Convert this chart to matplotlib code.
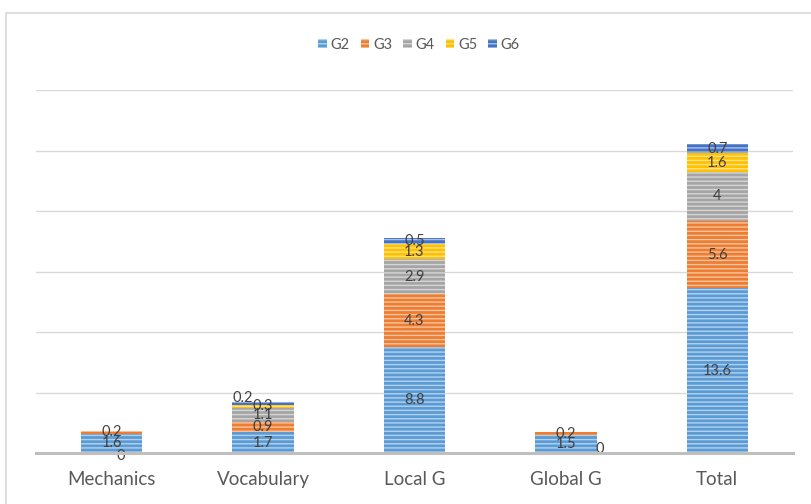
import numpy as np
import matplotlib
matplotlib.use("Agg")
import matplotlib.pyplot as plt
from matplotlib.patches import Patch, Rectangle

plt.rcParams['font.family'] = ['Lato', 'DejaVu Sans']
plt.rcParams['hatch.linewidth'] = 1.0

categories = ["Mechanics", "Vocabulary", "Local G", "Global G", "Total"]
series = ["G2", "G3", "G4", "G5", "G6"]
g2 = [1.6, 1.7, 8.8, 1.5, 13.6]
g3 = [0.2, 0.9, 4.3, 0.2, 5.6]
g4 = [0.0, 1.1, 2.9, 0.0, 4.0]
g5 = [np.nan, 0.3, 1.3, np.nan, 1.6]
g6 = [np.nan, 0.2, 0.5, np.nan, 0.7]
colors = ["#5B9BD5", "#ED7D31", "#A5A5A5", "#FFC000", "#4472C4"]

values = [g2, g3, g4, g5, g6]

# nudges (pixels) for labels that would otherwise collide
label_nudge = {
    (0, 2): (9, -3),
    (3, 2): (34, 4),
    (1, 4): (-20, 5),
}

fig = plt.figure(figsize=(8.12, 5.04), dpi=100)
fig.patches.append(Rectangle((6 / 812, -0.1), 1.2, 1 - 13 / 504 + 0.1,
                             transform=fig.transFigure, fill=False,
                             edgecolor="#D9D9D9", linewidth=1.2))
ax = fig.add_axes([36 / 812, 1 - 453 / 504, 757 / 812, (453 - 90) / 504])

x = np.arange(len(categories))
bottom = np.zeros(len(categories))
for si, (name, vals, col) in enumerate(zip(series, values, colors)):
    v = np.array(vals, dtype=float)
    h = np.nan_to_num(v)
    ax.bar(x, h, width=0.405, bottom=bottom, color=col,
           edgecolor=(1, 1, 1, 0.55), linewidth=0, hatch="----",
           label=name, zorder=2)
    for ci in range(len(categories)):
        if np.isnan(v[ci]):
            continue
        # zero-height segments get their label at the baseline
        yc = 0.0 if h[ci] == 0 else bottom[ci] + h[ci] / 2
        dx, dy = label_nudge.get((ci, si), (0, 0))
        ax.annotate(f"{v[ci]:g}", (x[ci], yc), xytext=(dx, dy),
                    textcoords="offset pixels", ha="center", va="center",
                    fontsize=10.5, color="#404040", zorder=3)
    bottom += h

ax.set_xlim(-0.5, len(categories) - 0.5)
ax.set_ylim(0, 30)
ax.set_yticks(np.arange(0, 31, 5))
ax.yaxis.grid(True, color="#D9D9D9", linewidth=1.0, zorder=0)
ax.tick_params(axis="y", left=False, labelleft=False)
ax.tick_params(axis="x", length=0, pad=13, labelsize=13.5, labelcolor="#595959")
ax.set_xticks(x)
ax.set_xticklabels(categories)
for s in ["left", "right", "top"]:
    ax.spines[s].set_visible(False)
ax.spines["bottom"].set_color("#BFBFBF")
ax.spines["bottom"].set_linewidth(2.2)
ax.spines["bottom"].set_zorder(4)

handles = [Patch(facecolor=c, edgecolor=(1, 1, 1, 0.55), linewidth=0, hatch="----")
           for c in colors]
fig.legend(handles, series, loc="center", bbox_to_anchor=(419 / 812, 1 - 45 / 504),
           ncol=5, frameon=False, fontsize=10.5, handlelength=0.6, handleheight=0.6,
           handletextpad=0.25, columnspacing=0.75, labelcolor="#595959")

fig.savefig("out.png", dpi=100)
